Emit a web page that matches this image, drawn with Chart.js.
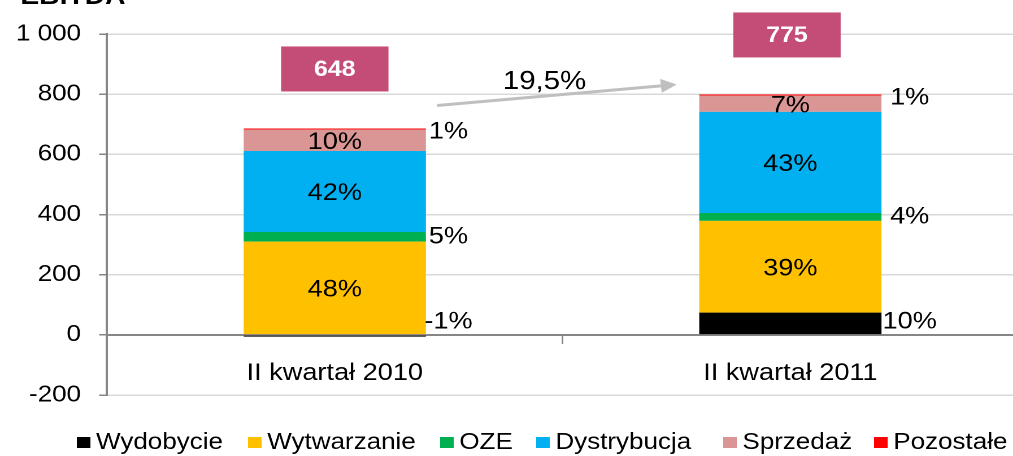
<!DOCTYPE html>
<html lang="pl">
<head>
<meta charset="utf-8">
<title>EBITDA</title>
<script src="https://cdn.jsdelivr.net/npm/chart.js@4.4.1/dist/chart.umd.min.js"></script>
<style>
  html, body { margin: 0; padding: 0; background: #fff; overflow: hidden; }
  /* oryginał jest lekko rozciągnięty w poziomie */
  #wrap { width: 903px; height: 456px; transform: scaleX(1.13); transform-origin: 0 0; }
</style>
</head>
<body>
<div id="wrap"><canvas id="ebitdaChart" width="903" height="456"></canvas></div>
<script>
// --- DANE ---
const categories = ['II kwartał 2010', 'II kwartał 2011'];
const seriesNames = ['Wydobycie', 'Wytwarzanie', 'OZE', 'Dystrybucja', 'Sprzedaż', 'Pozostałe'];
const seriesColors = ['#000000', '#FFC000', '#00B050', '#00B0F0', '#D99694', '#FF0000'];

const wydobycie = [-6, 74];
const wytwarzanie = [310, 305];
const oze = [32, 26];
const dystrybucja = [269, 336];
const sprzedaz = [71, 54];
const pozostale = [4, 4];

const wydobycieShare = ['-1%', '10%'];
const wytwarzanieShare = ['48%', '39%'];
const ozeShare = ['5%', '4%'];
const dystrybucjaShare = ['42%', '43%'];
const sprzedazShare = ['10%', '7%'];
const pozostaleShare = ['1%', '1%'];

const totals = [648, 775];
const growthLabel = '19,5%';
const chartTitle = 'EBITDA';

const yTickValues = [-200, 0, 200, 400, 600, 800, 1000];
const yTickLabels = ['-200', '0', '200', '400', '600', '800', '1 000'];

const seriesValues = [wydobycie, wytwarzanie, oze, dystrybucja, sprzedaz, pozostale];
const shareLabels = [wydobycieShare, wytwarzanieShare, ozeShare, dystrybucjaShare, sprzedazShare, pozostaleShare];

const FONT = 'Arial, "Liberation Sans", sans-serif';
const insideSeries = [1, 3, 4]; // etykiety w środku słupka, reszta z prawej

// --- ETYKIETY, RAMKI, STRZAŁKA, LEGENDA ---
const annotations = {
    id: 'annotations',
    afterDatasetsDraw(chart) {
        const ctx = chart.ctx;
        const zeroY = chart.scales.y.getPixelForValue(0);
        ctx.save();
        ctx.textBaseline = 'middle';

        // udziały procentowe
        chart.data.datasets.forEach((ds, i) => {
            chart.getDatasetMeta(i).data.forEach((bar, j) => {
                const mid = (bar.y + bar.base) / 2;
                ctx.fillStyle = '#000';
                ctx.font = '24px ' + FONT;
                ctx.textAlign = 'center';
                if (insideSeries.includes(i)) {
                    ctx.fillText(shareLabels[i][j], bar.x, mid + 2);
                } else {
                    let y = mid;
                    if (i === 0) y = Math.min(mid, zeroY - 13);
                    if (i === 5) y = mid + 3;
                    ctx.fillText(shareLabels[i][j], bar.x + bar.width / 2 + 20 + 5 * j, y);
                }
            });
        });

        // sumy w ramkach nad słupkami
        const lastMeta = chart.getDatasetMeta(chart.data.datasets.length - 1);
        lastMeta.data.forEach((bar, j) => {
            const boxW = 95, boxH = 45;
            const bottom = bar.y - 37;
            ctx.fillStyle = '#C44D77';
            ctx.fillRect(bar.x - 3 * j - boxW / 2, bottom - boxH, boxW, boxH);
            ctx.fillStyle = '#fff';
            ctx.font = 'bold 22px ' + FONT;
            ctx.textAlign = 'center';
            ctx.fillText(String(totals[j]), bar.x - 3 * j, bottom - boxH / 2 + 1);
        });

        // strzałka wzrostu
        const b0 = lastMeta.data[0], b1 = lastMeta.data[1];
        const x1 = b0.x + b0.width / 2 + 10, y1 = b0.y - 23;
        const x2 = b1.x - b1.width / 2 - 20, y2 = b1.y - 10;
        const ang = Math.atan2(y2 - y1, x2 - x1);
        const head = 14, half = 7;
        const hx = x2 - head * Math.cos(ang), hy = y2 - head * Math.sin(ang);
        ctx.strokeStyle = '#BFBFBF';
        ctx.fillStyle = '#BFBFBF';
        ctx.lineWidth = 3;
        ctx.beginPath();
        ctx.moveTo(x1, y1);
        ctx.lineTo(hx, hy);
        ctx.stroke();
        ctx.beginPath();
        ctx.moveTo(x2, y2);
        ctx.lineTo(hx + half * Math.sin(ang), hy - half * Math.cos(ang));
        ctx.lineTo(hx - half * Math.sin(ang), hy + half * Math.cos(ang));
        ctx.closePath();
        ctx.fill();

        ctx.fillStyle = '#000';
        ctx.font = '26px ' + FONT;
        ctx.fillText(growthLabel, (x1 + x2) / 2 - 11, (y1 + y2) / 2 - 13);
        ctx.restore();
    },
    afterDraw(chart) {
        const ctx = chart.ctx;
        ctx.save();
        // tytuł (ucięty u góry jak w oryginale)
        ctx.fillStyle = '#000';
        ctx.font = 'bold 25px ' + FONT;
        ctx.textAlign = 'left';
        ctx.textBaseline = 'alphabetic';
        ctx.fillText(chartTitle, 18, 4);

        // legenda
        const legendX = [68, 219.5, 389.5, 474.5, 640, 773.5];
        ctx.font = '23px ' + FONT;
        chart.data.datasets.forEach((ds, i) => {
            ctx.fillStyle = ds.backgroundColor;
            ctx.fillRect(legendX[i], 437, 12, 11);
            ctx.fillStyle = '#000';
            ctx.fillText(ds.label, legendX[i] + 17, 449);
        });
        ctx.restore();
    }
};

new Chart(document.getElementById('ebitdaChart'), {
    type: 'bar',
    data: {
        labels: categories,
        datasets: seriesNames.map((name, i) => ({
            label: name,
            data: seriesValues[i],
            backgroundColor: seriesColors[i],
            borderWidth: 0,
            barPercentage: 0.4,
            categoryPercentage: 1.0
        }))
    },
    options: {
        responsive: false,
        devicePixelRatio: 2,
        animation: false,
        layout: { padding: { top: 34, right: 2, bottom: 61, left: 0 } },
        plugins: {
            legend: { display: false },
            tooltip: { enabled: false }
        },
        scales: {
            x: {
                stacked: true,
                position: { y: 0 },
                ticks: { color: '#000', font: { size: 24, family: FONT }, padding: 16 },
                grid: { drawOnChartArea: false, tickLength: 8, tickColor: '#868686', lineWidth: 1.5 },
                border: { display: true, color: '#868686', width: 2 }
            },
            y: {
                stacked: true,
                min: -200,
                max: 1000,
                afterFit: s => { s.width = 94.7; },
                ticks: {
                    stepSize: 200,
                    padding: 16,
                    color: '#000',
                    font: { size: 23, family: FONT },
                    callback: v => yTickLabels[yTickValues.indexOf(v)]
                },
                grid: {
                    color: c => (c.tick && c.tick.value === 0) ? 'rgba(0,0,0,0)' : '#D9D9D9',
                    lineWidth: 1.5,
                    tickLength: 7,
                    tickColor: '#868686'
                },
                border: { display: true, color: '#868686', width: 2 }
            }
        }
    },
    plugins: [annotations]
});
</script>
</body>
</html>
